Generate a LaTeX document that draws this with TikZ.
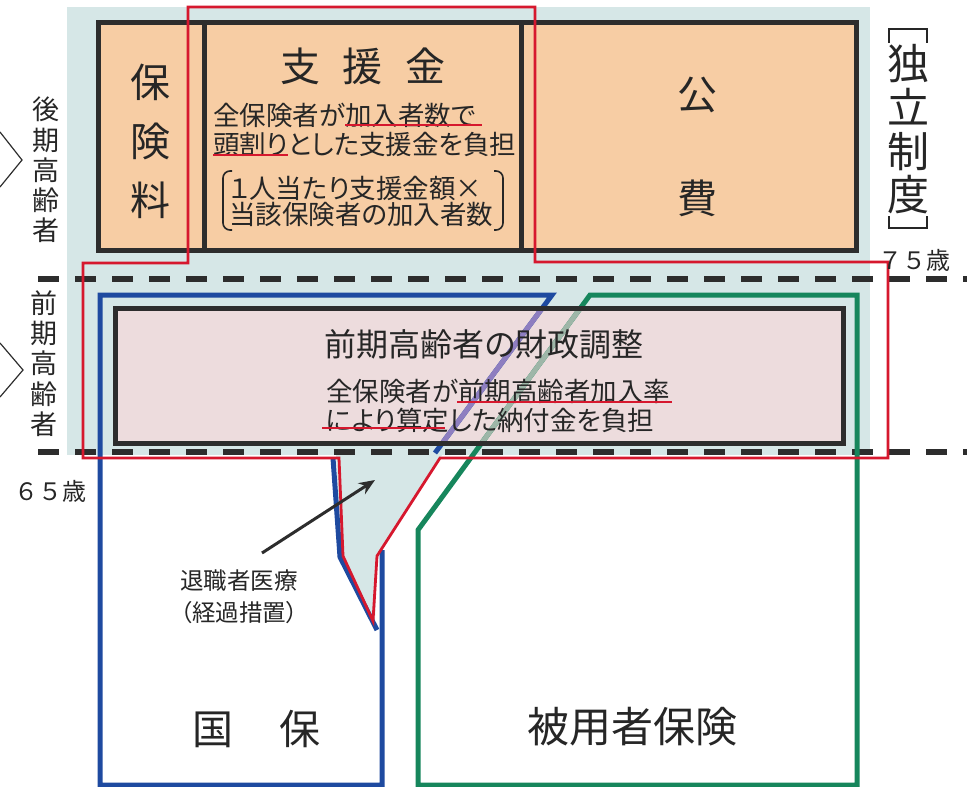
\documentclass[tikz,border=0pt]{standalone}
\usepackage{fontspec}
\setmainfont{Noto Sans CJK JP}
\newfontfamily\jpprop[RawFeature=+palt]{Noto Sans CJK JP}
\usetikzlibrary{arrows.meta}

\definecolor{bgblue}{RGB}{214,231,231}
\definecolor{feeorange}{RGB}{247,205,164}
\definecolor{adjpink}{RGB}{237,220,221}
\definecolor{boxblack}{RGB}{45,45,45}
\definecolor{txtgrey}{RGB}{38,38,38}
\definecolor{linered}{RGB}{214,24,46}
\definecolor{kokuhoblue}{RGB}{30,74,160}
\definecolor{hiyogreen}{RGB}{22,134,92}
\definecolor{mixpurple}{RGB}{142,126,192}
\definecolor{mixgreen}{RGB}{158,182,168}

\tikzset{
  boxline/.style={draw=boxblack, line width=5pt},
  redline/.style={draw=linered, line width=2.8pt},
  blueline/.style={draw=kokuhoblue, line width=5pt},
  greenline/.style={draw=hiyogreen, line width=5pt},
  agedash/.style={draw=boxblack, line width=5.5pt, dash pattern=on 21pt off 16pt},
  underl/.style={draw=linered, line width=2pt},
  chevron/.style={draw=boxblack, line width=1.2pt},
  hook/.style={draw=txtgrey, line width=2.6pt},
  pointer/.style={draw=boxblack, line width=3pt, -{Stealth[length=16pt,width=13pt]}},
  bigtxt/.style={text=txtgrey, inner sep=0pt, align=center, font=\fontsize{40}{40}\selectfont},
  midtxt/.style={text=txtgrey, inner sep=0pt, align=left, font=\jpprop\fontsize{26.5}{29}\selectfont},
  sidetxt/.style={text=txtgrey, inner sep=0pt, align=center, font=\fontsize{27}{30.2}\selectfont},
  agetxt/.style={text=txtgrey, inner sep=0pt, font=\fontsize{24}{24}\selectfont}
}

\begin{document}
\begin{tikzpicture}[x=1pt,y=-1pt]
  \useasboundingbox (0,0) rectangle (967,787);

  %light blue ground of the elderly part, and the retiree wedge
  \fill[bgblue] (67,7) rectangle (870,455);
  \fill[bgblue] (336,455) -- (442,455) -- (377,556) -- (375,624) -- (341,556) -- cycle;

  %upper block: premium, support money, public funds
  \fill[feeorange] (98,22) rectangle (856,250);
  \draw[boxline] (98,22) rectangle (856,250);
  \draw[boxline] (204,22) -- (204,250);
  \draw[boxline] (521,22) -- (521,250);

  %lower block: financial adjustment
  \fill[adjpink] (115,308) rectangle (843,443);

  %age lines at 75 and 65
  \draw[agedash] (38,279) -- (967,279);
  \draw[agedash] (38,452) -- (967,452);

  %kokuho outline
  \draw[blueline] (382,550) -- (382,785) -- (100,785) -- (100,295) -- (552,295) -- (435,453);
  \draw[blueline] (333,458) -- (340,557) -- (377,630);

  %employee insurance outline
  \draw[greenline] (590,295) -- (857,295) -- (857,785) -- (418,785) -- (418,530) -- cycle;

  %the two slanted lines seen through the pink box
  \begin{scope}
    \clip (117.5,310.5) rectangle (840.5,440.5);
    \draw[blueline, draw=mixpurple] (552,295) -- (435,453);
    \draw[greenline, draw=mixgreen] (418,530) -- (590,295);
  \end{scope}
  \draw[boxline] (115,308) rectangle (843,443);

  %red outline of what all insurers share
  \draw[redline] (83,458) -- (339,458) -- (343,556) -- (373,621) -- (377,556) -- (440,458)
    -- (888,458) -- (888,262) -- (535,262) -- (535,7) -- (188,7) -- (188,263) -- (83,263) -- cycle;

  %texts of the upper block
  \node[bigtxt, font=\fontsize{40}{59}\selectfont] (hokenryo) at (150,141) {保\\険\\料};
  \node[bigtxt] (shienkin) at (363,66) {支\hspace{22.5pt}援\hspace{22.5pt}金};
  \node[midtxt, anchor=west] (shiendesc) at (213,129.5) {全保険者が加入者数で\\頭割りとした支援金を負担};
  \node[midtxt, font=\jpprop\fontsize{26.5}{25.5}\selectfont, anchor=west] (shiencalc) at (229,201.5) {１人当たり支援金額×\\当該保険者の加入者数};
  \draw[draw=txtgrey, line width=1.6pt, rounded corners=7pt] (232,171) -- (223,171) -- (223,230) -- (232,230);
  \draw[draw=txtgrey, line width=1.6pt, rounded corners=7pt] (494,171) -- (503,171) -- (503,230) -- (494,230);
  \draw[underl] (345,125) -- (482,125);
  \draw[underl] (213,155) -- (288,155);
  \node[bigtxt, font=\fontsize{40}{104}\selectfont] (kohi) at (697,147) {公\\費};

  %independent system label with its vertical brackets
  \node[bigtxt, font=\fontsize{42}{43.7}\selectfont] (dokuritsu) at (908,129.5) {独\\立\\制\\度};
  \draw[hook] (889,43) -- (889,29) -- (927,29) -- (927,43);
  \draw[hook] (889,216) -- (889,228) -- (927,228) -- (927,216);

  %ages and side labels
  \node[agetxt] (age75) at (914,260) {７５歳};
  \node[agetxt] (age65) at (50,491) {６５歳};
  \node[sidetxt] (kouki) at (46,170) {後\\期\\高\\齢\\者};
  \node[sidetxt] (zenki) at (44,363.5) {前\\期\\高\\齢\\者};
  \draw[chevron] (0,132) -- (22,160) -- (0,187);
  \draw[chevron] (0,343) -- (23,370) -- (0,397);

  %texts of the lower block
  \node[bigtxt, font=\jpprop\fontsize{32}{32}\selectfont] (zenkiadj) at (484,344) {前期高齢者の財政調整};
  \node[midtxt, anchor=west] (zenkidesc) at (326,405.5) {全保険者が前期高齢者加入率\\により算定した納付金を負担};
  \draw[underl] (457,402) -- (672,402);
  \draw[underl] (322,428) -- (445,428);

  %retiree wedge and its pointer
  \node[midtxt, align=center, font=\jpprop\fontsize{23.5}{32}\selectfont] (retire) at (239,597) {退職者医療\\（経過措置）};
  \coordinate (retireTail) at (262,553);
  \coordinate (retireTip) at (375,480);
  \draw[pointer] (retireTail) -- (retireTip);

  %insurer names
  \node[bigtxt, font=\fontsize{41}{41}\selectfont] (kokuho) at (256.5,729) {国\hspace{46pt}保};
  \node[bigtxt, font=\fontsize{42}{42}\selectfont] (hiyosha) at (632,727) {被用者保険};
\end{tikzpicture}
\end{document}
